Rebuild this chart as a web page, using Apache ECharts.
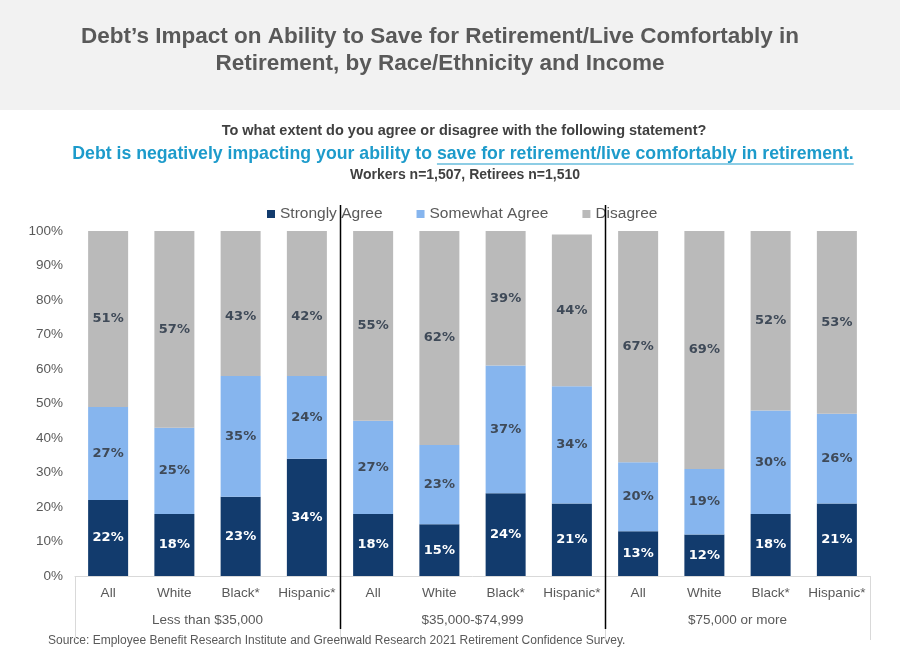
<!DOCTYPE html>
<html>
<head>
<meta charset="utf-8">
<script src="https://cdn.jsdelivr.net/npm/echarts@6/dist/echarts.min.js"></script>
<style>
html,body{margin:0;padding:0;background:#fff;}
#chart{width:900px;height:655px;}
</style>
</head>
<body>
<div id="chart"></div>
<script>
// ---- Data ----
var categories = ['All','White','Black*','Hispanic*','All','White','Black*','Hispanic*','All','White','Black*','Hispanic*'];
var incomeGroups = ['Less than $35,000','$35,000-$74,999','$75,000 or more'];
var stronglyAgree = [22,18,23,34, 18,15,24,21, 13,12,18,21];
var somewhatAgree = [27,25,35,24, 27,23,37,34, 20,19,30,26];
var disagree      = [51,57,43,42, 55,62,39,44, 67,69,52,53];
var yTicks = [0,10,20,30,40,50,60,70,80,90,100];

var titleLines = ["Debt\u2019s Impact on Ability to Save for Retirement/Live Comfortably in", "Retirement, by Race/Ethnicity and Income"];
var questionText = 'To what extent do you agree or disagree with the following statement?';
var statementPlain = 'Debt is negatively impacting your ability to ';
var statementUnder = 'save for retirement/live comfortably in retirement.';
var sampleText = 'Workers n=1,507, Retirees n=1,510';
var sourceText = 'Source: Employee Benefit Research Institute and Greenwald Research 2021 Retirement Confidence Survey.';

var FONT = '"Liberation Sans", Arial, sans-serif';
var LBLFONT = '"DejaVu Sans", sans-serif';
var cNavy = '#123b6d', cLight = '#86b5ee', cGrey = '#bababa';
var labelDark = '#3f4a58';

var chart = echarts.init(document.getElementById('chart'));

function measure(text, font) {
  var c = document.createElement('canvas').getContext('2d');
  c.font = font;
  return c.measureText(text).width;
}

function barSeries(name, values, color, labelColor, extra) {
  return {
    name: name,
    type: 'bar',
    stack: 'total',
    barWidth: 40,
    itemStyle: { color: color },
    label: {
      show: true,
      position: 'inside',
      formatter: '{c}%',
      color: labelColor,
      fontFamily: LBLFONT,
      fontWeight: 'bold',
      fontSize: 13
    },
    data: values.map(function (v, i) { return extra ? extra(v, i) : v; })
  };
}

var option = {
  animation: false,
  backgroundColor: '#ffffff',
  textStyle: { fontFamily: FONT },
  legend: {
    top: 201,
    left: 262,
    itemWidth: 8,
    itemHeight: 8,
    itemGap: 34,
    icon: 'rect',
    textStyle: { color: '#595959', fontSize: 15.5, fontFamily: FONT },
    data: ['Strongly Agree', 'Somewhat Agree', 'Disagree']
  },
  grid: { left: 75, right: 30, top: 231, bottom: 79, containLabel: false },
  xAxis: [
    {
      type: 'category',
      data: categories,
      axisLine: { show: true, lineStyle: { color: '#d9d9d9', width: 1 } },
      axisTick: { show: false },
      axisLabel: { color: '#595959', fontSize: 13.5, margin: 10, interval: 0, fontFamily: FONT }
    },
    {
      type: 'category',
      data: incomeGroups,
      position: 'bottom',
      axisLine: { show: false },
      axisTick: { show: true, length: 64, interval: 0, lineStyle: { color: '#d9d9d9' } },
      axisLabel: { color: '#595959', fontSize: 13.5, margin: 37, interval: 0, fontFamily: FONT }
    }
  ],
  yAxis: {
    type: 'value',
    min: yTicks[0],
    max: yTicks[yTicks.length - 1],
    interval: yTicks[1] - yTicks[0],
    axisLine: { show: false },
    axisTick: { show: false },
    splitLine: { show: false },
    axisLabel: { formatter: '{value}%', color: '#595959', fontSize: 13.5, margin: 12, fontFamily: FONT }
  },
  series: [
    barSeries('Strongly Agree', stronglyAgree, cNavy, '#ffffff'),
    barSeries('Somewhat Agree', somewhatAgree, cLight, labelDark),
    barSeries('Disagree', disagree, cGrey, labelDark, function (v, i) {
      return (i === 2 || i === 3) ? { value: v, label: { offset: [0, 13] } } : v;
    })
  ]
};
chart.setOption(option);

// ---- Text/graphics ----
var W = 900;
var titleFont = 'bold 22.5px ' + FONT;
var qFont = 'bold 14.5px ' + FONT;
var sFont = 'bold 17.7px ' + FONT;
var nFont = 'bold 14px ' + FONT;

var graphics = [];
graphics.push({ type: 'rect', z: -10, shape: { x: 0, y: 0, width: W, height: 110 }, style: { fill: '#f2f2f2' }, silent: true });
graphics.push({ type: 'text', x: 440, y: 37, style: { text: titleLines[0], font: titleFont, fill: '#595959', align: 'center', verticalAlign: 'middle' } });
graphics.push({ type: 'text', x: 440, y: 64, style: { text: titleLines[1], font: titleFont, fill: '#595959', align: 'center', verticalAlign: 'middle' } });
graphics.push({ type: 'text', x: 464, y: 131, style: { text: questionText, font: qFont, fill: '#404040', align: 'center', verticalAlign: 'middle' } });

var wPlain = measure(statementPlain, sFont);
var wUnder = measure(statementUnder, sFont);
var sx = 463 - (wPlain + wUnder) / 2;
var blue = '#1d9bcb';
graphics.push({ type: 'text', x: sx, y: 154, style: { text: statementPlain, font: sFont, fill: blue, align: 'left', verticalAlign: 'middle' } });
graphics.push({ type: 'text', x: sx + wPlain, y: 154, style: { text: statementUnder, font: sFont, fill: blue, align: 'left', verticalAlign: 'middle' } });
graphics.push({ type: 'line', shape: { x1: sx + wPlain, y1: 164, x2: sx + wPlain + wUnder, y2: 164 }, style: { stroke: blue, lineWidth: 1.2 } });

graphics.push({ type: 'text', x: 465, y: 175, style: { text: sampleText, font: nFont, fill: '#404040', align: 'center', verticalAlign: 'middle' } });
graphics.push({ type: 'text', x: 48, y: 641, style: { text: sourceText, font: '12px ' + FONT, fill: '#595959', align: 'left', verticalAlign: 'middle' } });

// group separators (black lines) between category groups (by category index)
[3, 7].forEach(function (idx) {
  var xa = chart.convertToPixel({ xAxisIndex: 0 }, idx);
  var xb = chart.convertToPixel({ xAxisIndex: 0 }, idx + 1);
  var xm = Math.round((xa + xb) / 2) + 0.5;
  graphics.push({ type: 'line', z: 100, shape: { x1: xm, y1: 205, x2: xm, y2: 629 }, style: { stroke: '#000000', lineWidth: 1.5 } });
});

chart.setOption({ graphic: graphics });
</script>
</body>
</html>
